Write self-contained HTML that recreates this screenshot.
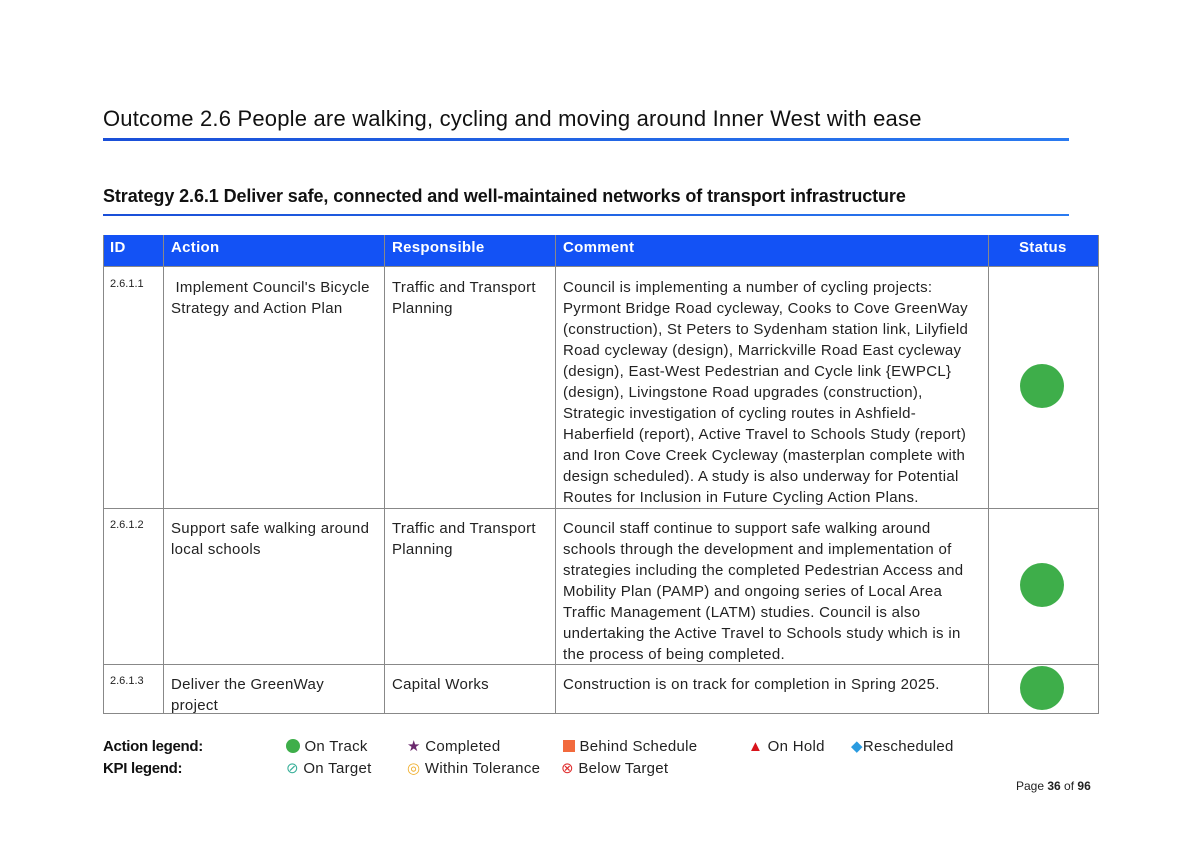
<!DOCTYPE html>
<html><head><meta charset="utf-8"><style>
body{margin:0;width:1194px;height:844px;background:#fff;font-family:"Liberation Sans",sans-serif;color:#222;position:relative;overflow:hidden}
.a{position:absolute;white-space:nowrap}
.t{font-size:15px;line-height:21px;letter-spacing:0.3px}
.v{position:absolute;top:235px;width:1px;height:478px;background:#888}
.h{position:absolute;left:103px;width:996px;height:1px;background:#888}
.c{position:absolute;width:44px;height:44px;border-radius:50%;background:#3eae4a;left:1020px}
.th{position:absolute;top:236px;height:31px;line-height:23px;color:#fff;font-size:15px;font-weight:bold;letter-spacing:0.3px}
</style></head><body>
<div class="a" style="left:103px;top:106px;font-size:22px;letter-spacing:0.2px;color:#111">Outcome 2.6 People are walking, cycling and moving around Inner West with ease</div>
<div class="a" style="left:103px;top:138px;width:966px;height:3px;background:linear-gradient(90deg,#1a4fd8,#2a7af0)"></div>
<div class="a" style="left:103px;top:186px;font-size:18px;font-weight:bold;color:#111;letter-spacing:-0.1px">Strategy 2.6.1 Deliver safe, connected and well-maintained networks of transport infrastructure</div>
<div class="a" style="left:103px;top:214px;width:966px;height:2px;background:linear-gradient(90deg,#1a4fd8,#2a7af0)"></div>

<div class="a" style="left:103px;top:235px;width:996px;height:31px;background:#1352f5"></div>
<div class="th" style="left:110px">ID</div>
<div class="th" style="left:171px">Action</div>
<div class="th" style="left:392px">Responsible</div>
<div class="th" style="left:563px">Comment</div>
<div class="th" style="left:1019px">Status</div>

<div class="v" style="left:103px"></div><div class="v" style="left:163px"></div><div class="v" style="left:384px"></div><div class="v" style="left:555px"></div><div class="v" style="left:988px"></div><div class="v" style="left:1098px"></div>
<div class="h" style="top:266px"></div><div class="h" style="top:508px"></div><div class="h" style="top:664px"></div><div class="h" style="top:713px"></div>

<div class="a" style="left:110px;top:278px;font-size:11px">2.6.1.1</div>
<div class="a t" style="left:171px;top:277px">&nbsp;Implement Council's Bicycle<br>Strategy and Action Plan</div>
<div class="a t" style="left:392px;top:277px">Traffic and Transport<br>Planning</div>
<div class="a t" style="left:563px;top:277px">Council is implementing a number of cycling projects:<br>Pyrmont Bridge Road cycleway, Cooks to Cove GreenWay<br>(construction), St Peters to Sydenham station link, Lilyfield<br>Road cycleway (design), Marrickville Road East cycleway<br>(design), East-West Pedestrian and Cycle link {EWPCL}<br>(design), Livingstone Road upgrades (construction),<br>Strategic investigation of cycling routes in Ashfield-<br>Haberfield (report), Active Travel to Schools Study (report)<br>and Iron Cove Creek Cycleway (masterplan complete with<br>design scheduled). A study is also underway for Potential<br>Routes for Inclusion in Future Cycling Action Plans.</div>
<div class="c" style="top:364px"></div>

<div class="a" style="left:110px;top:519px;font-size:11px">2.6.1.2</div>
<div class="a t" style="left:171px;top:518px">Support safe walking around<br>local schools</div>
<div class="a t" style="left:392px;top:518px">Traffic and Transport<br>Planning</div>
<div class="a t" style="left:563px;top:518px">Council staff continue to support safe walking around<br>schools through the development and implementation of<br>strategies including the completed Pedestrian Access and<br>Mobility Plan (PAMP) and ongoing series of Local Area<br>Traffic Management (LATM) studies. Council is also<br>undertaking the Active Travel to Schools study which is in<br>the process of being completed.</div>
<div class="c" style="top:563px"></div>

<div class="a" style="left:110px;top:675px;font-size:11px">2.6.1.3</div>
<div class="a t" style="left:171px;top:674px">Deliver the GreenWay<br>project</div>
<div class="a t" style="left:392px;top:674px">Capital Works</div>
<div class="a t" style="left:563px;top:674px">Construction is on track for completion in Spring 2025.</div>
<div class="c" style="top:666px"></div>

<div class="a" style="left:103px;top:738px;font-size:15px;font-weight:bold;color:#111;letter-spacing:-0.3px">Action legend:</div>
<div class="a" style="left:103px;top:760px;font-size:15px;font-weight:bold;color:#111;letter-spacing:-0.3px">KPI legend:</div>
<div class="a t" style="left:286px;top:736px"><span style="display:inline-block;width:14px;height:14px;border-radius:50%;background:#3eae4a;vertical-align:-2px"></span> On Track</div>
<div class="a t" style="left:407px;top:736px"><span style="color:#6b2a6e">★</span> Completed</div>
<div class="a t" style="left:563px;top:736px"><span style="display:inline-block;width:12px;height:12px;background:#f26a3d;vertical-align:-1px"></span> Behind Schedule</div>
<div class="a t" style="left:748px;top:736px"><span style="color:#d8141b">▲</span> On Hold</div>
<div class="a t" style="left:851px;top:736px"><span style="color:#2a9be0">◆</span>Rescheduled</div>
<div class="a t" style="left:286px;top:758px"><span style="color:#3ab09a">⊘</span> On Target</div>
<div class="a t" style="left:407px;top:758px"><span style="color:#f0b030">◎</span> Within Tolerance</div>
<div class="a t" style="left:561px;top:758px"><span style="color:#e03030">⊗</span> Below Target</div>
<div class="a" style="left:1016px;top:779px;font-size:12px">Page <b>36</b> of <b>96</b></div>
</body></html>
